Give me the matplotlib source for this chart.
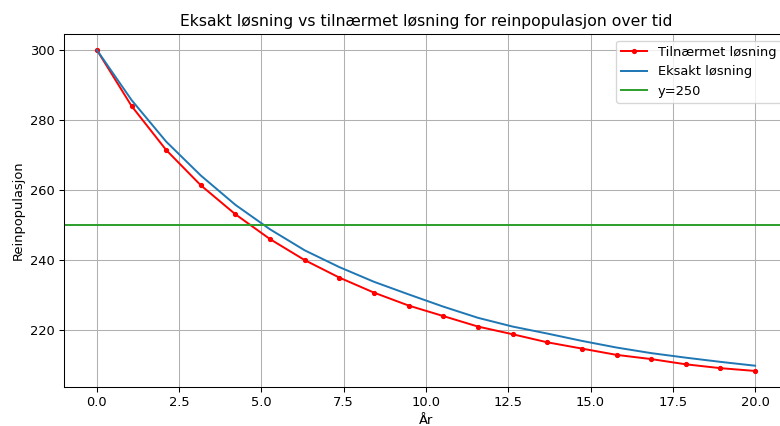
import numpy as np
import matplotlib
matplotlib.use("Agg")
import matplotlib.pyplot as plt

t = np.linspace(0, 20, 20)
approx = [300.0, 284.0, 271.4, 261.3, 253.0, 245.9, 239.9, 234.9, 230.6, 226.9,
          223.9, 220.9, 218.7, 216.4, 214.6, 212.8, 211.6, 210.1, 209.0, 208.2]
exact = [300.0, 285.7, 273.8, 264.1, 255.7, 248.7, 242.7, 237.9, 233.7, 230.1,
         226.6, 223.4, 220.9, 218.9, 216.8, 214.9, 213.3, 212.0, 210.8, 209.7]
y_ref = 250

DPI = 94
fig = plt.figure(figsize=(781/DPI, 426/DPI), dpi=DPI)
ax = fig.add_axes([64/781, 1-387/426, 724/781, (387-34)/426])
ax.plot(t, approx, 'r.-', label='Tilnærmet løsning')
ax.plot(t, exact, color='C0', label='Eksakt løsning')
ax.axhline(y_ref, color='C2', label='y=250')
ax.grid(True)
ax.set_title('Eksakt løsning vs tilnærmet løsning for reinpopulasjon over tid', fontsize=12)
ax.set_xlabel('År')
ax.set_ylabel('Reinpopulasjon')
ax.legend(loc='upper right')
fig.savefig('out.png', dpi=DPI)
